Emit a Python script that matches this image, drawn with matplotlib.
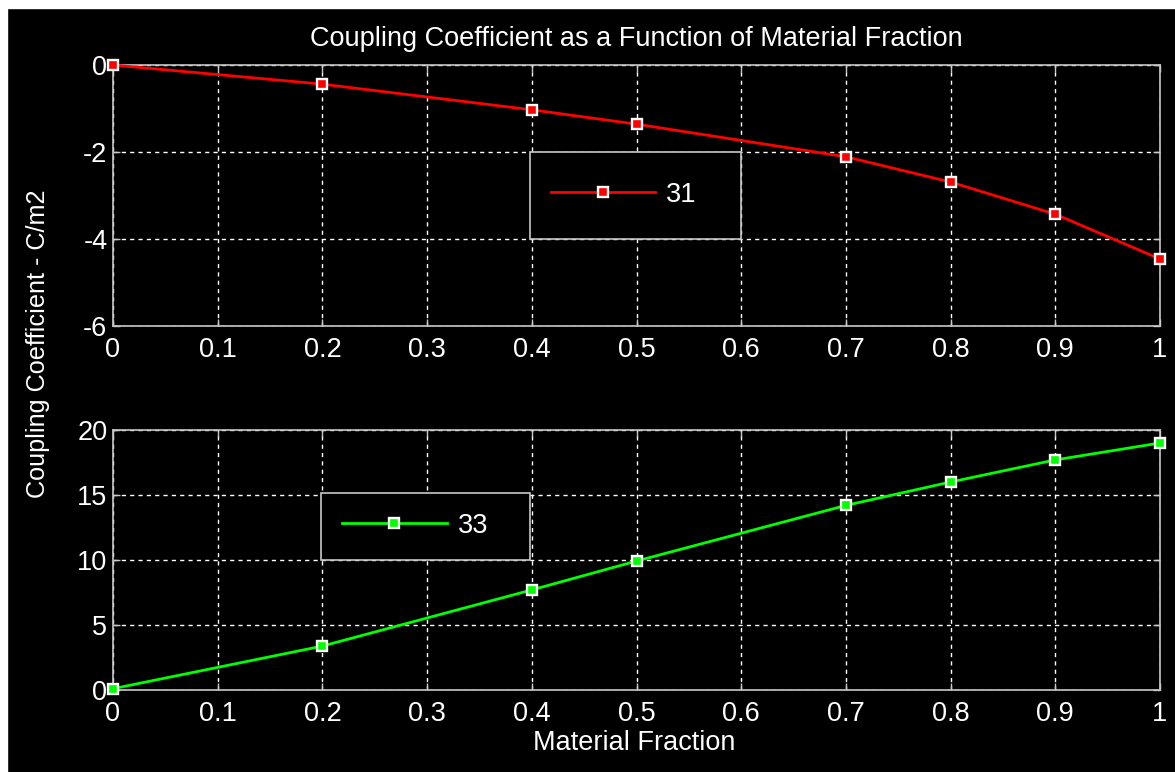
import matplotlib.pyplot as plt
from matplotlib.patches import Rectangle

plt.rcParams['font.family'] = ['Liberation Sans', 'DejaVu Sans']
plt.rcParams['axes.unicode_minus'] = False

# Data
fraction = [0.0, 0.2, 0.4, 0.5, 0.7, 0.8, 0.9, 1.0]
coef_31 = [0.0, -0.44, -1.03, -1.36, -2.11, -2.69, -3.43, -4.46]
coef_33 = [0.1, 3.38, 7.7, 9.92, 14.2, 16.0, 17.7, 19.0]
xticks = [0, 0.1, 0.2, 0.3, 0.4, 0.5, 0.6, 0.7, 0.8, 0.9, 1]
xticklabels = ['0', '0.1', '0.2', '0.3', '0.4', '0.5', '0.6', '0.7', '0.8', '0.9', '1']
yticks_31 = [-6, -4, -2, 0]
yticks_33 = [0, 5, 10, 15, 20]

W, H = 1175, 772
fig = plt.figure(figsize=(W / 100, H / 100), dpi=100, facecolor='black')

# thin white margin on top and left like the screenshot
fig.add_artist(Rectangle((0, 1 - 8 / H), 1, 8 / H, transform=fig.transFigure,
                         color='white', zorder=0))
fig.add_artist(Rectangle((0, 0), 7 / W, 1, transform=fig.transFigure,
                         color='white', zorder=0))

spine_col = '#c8c8c8'
fs = 19.5


def px_axes(left, top, right, bottom):
    return fig.add_axes([left / W, 1 - bottom / H, (right - left) / W, (bottom - top) / H])


def style(ax, yticks):
    ax.set_facecolor('black')
    for s in ax.spines.values():
        s.set_color(spine_col)
        s.set_linewidth(1.2)
    ax.set_xlim(0, 1)
    ax.set_xticks(xticks)
    ax.set_xticklabels(xticklabels)
    ax.set_ylim(yticks[0], yticks[-1])
    ax.set_yticks(yticks)
    ax.tick_params(direction='in', top=True, right=True, length=5, width=1,
                   color=spine_col, labelcolor='white', labelsize=fs, pad=4)
    ax.tick_params(axis='x', pad=8)
    ax.grid(True, color='white', linestyle=(0, (3, 3)), linewidth=1)
    ax.set_axisbelow(True)


def legend_box(ax, x0, y0, w, h, handle_x, center_y):
    box = Rectangle((x0, y0), w, h, transform=ax.transAxes, facecolor='black',
                    edgecolor=spine_col, linewidth=1.2, zorder=4)
    ax.add_patch(box)
    leg = ax.legend(loc='center left', bbox_to_anchor=(handle_x, center_y),
                    frameon=False, fontsize=fs, handlelength=3.87,
                    handletextpad=0.4, borderpad=0, borderaxespad=0)
    leg.set_zorder(5)
    for t in leg.get_texts():
        t.set_color('white')


# top panel: coefficient 31
ax1 = px_axes(113, 65, 1160, 326)
style(ax1, yticks_31)
ax1.plot(fraction, coef_31, color='#ff0000', lw=2, marker='s', ms=6.8,
         mfc='#ff0000', mec='white', mew=1.7, label='31', zorder=3, clip_on=False)
legend_box(ax1, 0.398, 0.333, 0.202, 0.334, 0.418, 0.502)
ax1.set_title('Coupling Coefficient as a Function of Material Fraction',
              color='white', fontsize=fs, pad=14)

# bottom panel: coefficient 33
ax2 = px_axes(113, 430, 1160, 690)
style(ax2, yticks_33)
ax2.plot(fraction, coef_33, color='#00ff00', lw=2, marker='s', ms=6.8,
         mfc='#00ff00', mec='white', mew=1.7, label='33', zorder=3, clip_on=False)
legend_box(ax2, 0.1987, 0.5, 0.1996, 0.258, 0.2187, 0.631)

fig.text(634 / W, 1 - 743 / H, 'Material Fraction', color='white', fontsize=fs,
         ha='center', va='center')
fig.text(38 / W, 1 - 344 / H, 'Coupling Coefficient - C/m2', color='white',
         fontsize=18.2, ha='center', va='center', rotation=90)

fig.savefig('out.png', dpi=100, facecolor=fig.get_facecolor())
plt.close(fig)
